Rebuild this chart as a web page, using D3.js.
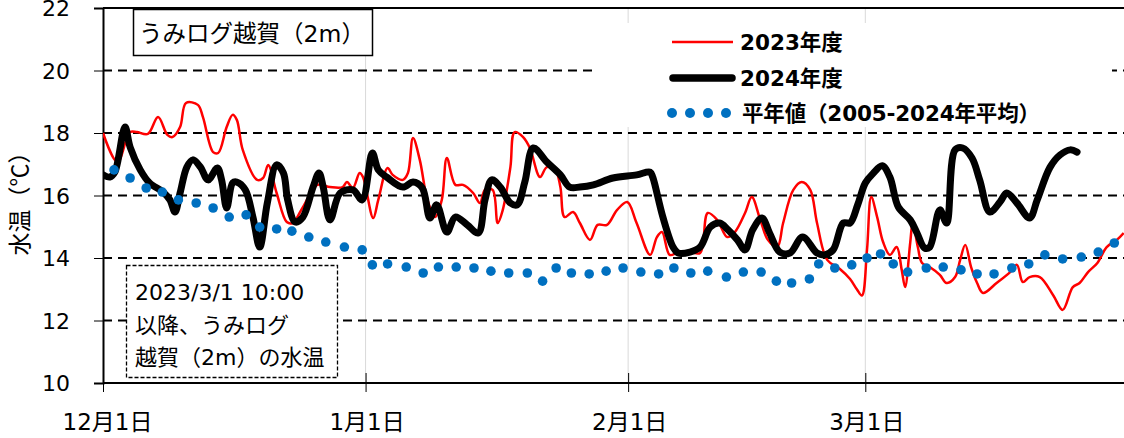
<!DOCTYPE html>
<html>
<head>
<meta charset="utf-8">
<script src="https://cdn.jsdelivr.net/npm/d3@7"></script>
<style>
  body { margin: 0; background: #fff; }
  svg { display: block; }
  text { font-family: "DejaVu Sans", "Noto Sans CJK JP", sans-serif; }
  .cjk { font-family: "Noto Sans CJK JP", sans-serif; }
</style>
</head>
<body>
<div id="chart"></div>
<script>
/* globals d3 */

// x値は12月1日からの日数
let monthDays = [0, 31, 62, 90]
let monthLabels = ['12月1日', '1月1日', '2月1日', '3月1日']
let yTicks = [10, 12, 14, 16, 18, 20, 22]
let gridVals = [12, 14, 16, 18, 20]

let fy2023 = [
  [0, 18.0], [1.7, 17.07], [3.2, 18.03], [4.0, 18.03], [5.3, 17.97], [6.5, 18.51], [7.6, 17.94],
  [8.2, 17.87], [9.1, 18.19], [9.8, 18.96], [11.2, 18.9], [11.8, 18.51], [13.0, 17.39], [13.6, 17.36],
  [14.6, 18.19], [15.3, 18.58], [15.8, 18.42], [16.5, 17.46], [18.2, 16.5], [18.9, 16.56], [19.5, 16.98],
  [20.5, 16.08], [21.7, 15.15], [22.4, 15.12], [23.6, 15.63], [25.3, 16.34], [26.8, 16.27], [28.3, 16.27],
  [28.8, 16.43], [29.5, 16.24], [30.3, 16.72], [30.7, 16.59], [31.9, 15.28], [32.5, 15.86], [33.6, 16.88],
  [34.2, 16.66], [35.4, 16.5], [36.0, 16.72], [36.6, 17.84], [37.4, 17.14], [38.3, 15.86], [39.2, 15.31],
  [40.0, 15.86], [40.6, 17.2], [41.6, 16.34], [42.5, 16.34], [43.7, 16.08], [44.5, 15.76], [45.1, 16.18],
  [46.0, 16.18], [46.6, 15.12], [47.2, 15.54], [48.1, 16.91], [48.6, 18.03], [49.6, 17.87], [50.4, 17.52],
  [51.6, 16.59], [52.4, 16.91], [53.4, 16.82], [54.0, 16.27], [54.5, 15.31], [55.5, 15.47], [56.3, 15.12],
  [57.5, 14.58], [58.4, 15.06], [59.5, 15.06], [60.7, 15.54], [61.9, 15.79], [63.0, 15.12], [64.6, 14.1],
  [65.4, 14.67], [66.0, 14.83], [66.9, 14.1], [67.8, 14.16], [69.3, 14.19], [70.5, 14.16], [71.4, 15.44],
  [72.5, 15.22], [73.7, 14.67], [74.6, 14.83], [75.8, 15.44], [76.6, 15.95], [77.6, 15.22], [78.5, 14.58],
  [79.6, 14.35], [80.3, 15.12], [81.5, 16.18], [82.5, 16.43], [83.5, 16.18], [84.3, 15.12], [85.5, 13.94],
  [87.0, 13.65], [88.2, 13.33], [89.0, 13.0], [89.6, 12.8], [90.2, 14.26], [90.7, 15.95], [91.4, 15.31],
  [92.1, 14.51], [92.9, 14.1], [93.7, 14.35], [94.3, 13.62], [94.7, 13.07], [95.3, 14.48], [95.6, 15.12],
  [96.2, 14.35], [96.7, 13.84], [97.6, 13.71], [98.8, 13.46], [99.6, 13.2], [100.6, 13.39], [101.2, 13.94],
  [101.8, 14.42], [102.5, 13.7], [103.2, 13.2], [103.9, 12.88], [105.5, 13.2], [107.1, 13.55], [107.9, 13.78],
  [108.6, 13.23], [109.4, 13.39], [110.6, 13.39], [112.2, 12.8], [113.3, 12.34], [114.5, 13.07], [115.3, 13.2],
  [116.3, 13.55], [117.4, 13.84], [118.5, 14.35], [119.7, 14.58], [120.5, 14.8]
]

let fy2024 = [
  [0, 16.66], [0.8, 16.59], [1.4, 16.75], [2.6, 18.19], [3.2, 17.55], [4.4, 16.82], [5.5, 16.4],
  [7.1, 16.11], [7.9, 15.86], [8.5, 15.47], [9.1, 16.08], [9.9, 16.91], [10.6, 17.14], [11.5, 16.91],
  [12.4, 16.5], [13.5, 16.88], [14.0, 16.5], [14.6, 15.6], [15.3, 16.4], [15.8, 16.43], [16.8, 16.18],
  [17.7, 15.31], [18.5, 14.35], [19.4, 15.76], [20.5, 16.98], [21.3, 16.72], [21.8, 15.86], [22.7, 15.15],
  [23.6, 15.31], [24.8, 16.27], [25.5, 16.72], [26.0, 16.27], [26.8, 15.22], [28.0, 16.08], [29.5, 16.18],
  [30.6, 15.86], [31.8, 17.36], [32.5, 16.82], [33.5, 16.59], [35.4, 16.27], [36.6, 16.43], [37.7, 16.24],
  [38.6, 15.28], [39.4, 15.7], [40.6, 14.83], [41.6, 15.31], [43.0, 15.06], [44.3, 14.8], [45.1, 15.86],
  [45.9, 16.5], [46.9, 16.27], [48.1, 15.76], [48.9, 15.7], [49.8, 16.43], [50.8, 17.52], [52.4, 17.07],
  [54.0, 16.66], [55.1, 16.27], [56.3, 16.27], [57.9, 16.34], [60.2, 16.56], [63.0, 16.66], [64.6, 16.75],
  [64.9, 16.59], [66.1, 15.31], [67.3, 14.35], [67.9, 14.16], [69.3, 14.19], [70.5, 14.35], [71.7, 14.99],
  [72.8, 15.12], [73.8, 14.9], [74.9, 14.58], [75.8, 14.26], [76.7, 14.9], [77.8, 15.28], [78.7, 14.8],
  [79.9, 14.19], [81.1, 14.16], [82.6, 14.67], [84.3, 14.16], [85.2, 14.1], [86.2, 14.26], [87.4, 15.12],
  [88.2, 15.12], [89.1, 15.7], [90.0, 16.4], [90.9, 16.7], [92.0, 16.95], [92.9, 16.59], [93.9, 15.63],
  [95.3, 15.22], [96.1, 14.8], [97.0, 14.32], [97.6, 14.35], [98.8, 15.54], [99.6, 15.12], [100.6, 17.46],
  [101.5, 17.52], [102.6, 17.2], [103.5, 16.5], [104.7, 15.47], [105.9, 15.79], [106.7, 16.08], [107.9, 15.76],
  [109.4, 15.28], [110.3, 15.86], [111.8, 16.9], [113.0, 17.3], [114.2, 17.46], [115.0, 17.39]
]

let normal = [
  [1.3, 16.82], [3.2, 16.56], [5.1, 16.24], [7.0, 16.11], [8.9, 15.86], [11.0, 15.76], [13.0, 15.6],
  [14.9, 15.31], [16.9, 15.38], [18.5, 14.99], [20.5, 14.93], [22.3, 14.86], [24.3, 14.67], [26.3, 14.51],
  [28.5, 14.35], [30.6, 14.26], [31.8, 13.78], [33.6, 13.81], [35.8, 13.71], [37.8, 13.52], [39.6, 13.71],
  [41.7, 13.71], [43.8, 13.68], [45.8, 13.58], [47.9, 13.52], [50.1, 13.52], [51.9, 13.26], [53.5, 13.68],
  [55.3, 13.52], [57.4, 13.49], [59.4, 13.58], [61.4, 13.68], [63.5, 13.55], [65.6, 13.49], [67.4, 13.68],
  [69.4, 13.52], [71.4, 13.58], [73.6, 13.39], [75.6, 13.55], [77.7, 13.55], [79.5, 13.26], [81.3, 13.2],
  [83.4, 13.33], [84.5, 13.81], [86.4, 13.68], [88.4, 13.78], [90.2, 14.0], [91.8, 14.13], [93.3, 13.81],
  [95.0, 13.55], [97.2, 13.68], [99.2, 13.71], [101.3, 13.62], [103.2, 13.49], [105.2, 13.49], [107.3, 13.68],
  [109.3, 13.81], [111.2, 14.1], [113.3, 13.97], [115.5, 14.03], [117.5, 14.19], [119.4, 14.48]
]

let W = 1124
let H = 438
let mLeft = 103
let mTop = 8
let mBottom = 383

let x = d3.scaleLinear().domain([0, 121]).range([mLeft, mLeft + 121 * 8.47])
let y = d3.scaleLinear().domain([10, 22]).range([mBottom, mTop])

function main () {
  let svg = d3.select('#chart').append('svg').attr('width', W).attr('height', H)

  svg.append('clipPath').attr('id', 'plot')
    .append('rect').attr('x', mLeft).attr('y', mTop).attr('width', W - mLeft).attr('height', mBottom - mTop)

  // 月の縦線
  svg.append('g').selectAll('line')
    .data(monthDays.slice(1))
    .enter().append('line')
      .attr('x1', (d) => x(d)).attr('x2', (d) => x(d))
      .attr('y1', mTop).attr('y2', mBottom)
      .attr('stroke', '#d9d9d9').attr('stroke-width', 1)

  // 破線グリッド
  svg.append('g').selectAll('line')
    .data(gridVals)
    .enter().append('line')
      .attr('x1', mLeft).attr('x2', W)
      .attr('y1', (d) => y(d)).attr('y2', (d) => y(d))
      .attr('stroke', '#000').attr('stroke-width', 2)
      .attr('stroke-dasharray', '9,6')

  // 凡例の白背景
  svg.append('rect').attr('x', 597).attr('y', 23).attr('width', 515).attr('height', 104).attr('fill', '#fff')

  // 軸
  let yAxis = d3.axisLeft(y).tickValues(yTicks).tickSize(9).tickFormat(d3.format('d'))
  let gy = svg.append('g').attr('transform', 'translate(' + mLeft + ',0)').call(yAxis)
  gy.select('.domain').attr('stroke-width', 2)
  gy.selectAll('.tick text').attr('x', -33).attr('dy', '0.36em')
    .style('font-size', '22px').style('font-family', '"DejaVu Sans", sans-serif').attr('fill', '#000')

  let xAxis = d3.axisBottom(x).tickValues(monthDays).tickSize(9).tickFormat((d, i) => monthLabels[i])
  let gx = svg.append('g').attr('transform', 'translate(0,' + mBottom + ')').call(xAxis)
  gx.select('.domain').attr('d', 'M' + mLeft + ',0H' + W).attr('stroke-width', 2)
  gx.selectAll('.tick line').attr('y1', -10)
  gx.selectAll('.tick text').attr('y', 47).attr('dy', null).attr('dx', (d) => d === 0 ? 4 : 1)
    .style('font-size', '23px').style('font-family', '"DejaVu Sans", "Noto Sans CJK JP", sans-serif')
    .attr('fill', '#000')

  svg.append('line').attr('x1', mLeft).attr('x2', W).attr('y1', mTop).attr('y2', mTop)
    .attr('stroke', '#000').attr('stroke-width', 2)

  // 系列
  let line = d3.line().x((d) => x(d[0])).y((d) => y(d[1])).curve(d3.curveCatmullRom.alpha(0.5))
  let plot = svg.append('g').attr('clip-path', 'url(#plot)')

  plot.append('path').datum(fy2023)
    .attr('d', line).attr('fill', 'none').attr('stroke', '#ff0000').attr('stroke-width', 2.5)

  plot.append('path').datum(fy2024)
    .attr('d', line).attr('fill', 'none').attr('stroke', '#000').attr('stroke-width', 7)
    .attr('stroke-linejoin', 'round').attr('stroke-linecap', 'round')

  plot.append('g').selectAll('circle')
    .data(normal)
    .enter().append('circle')
      .attr('cx', (d) => x(d[0])).attr('cy', (d) => y(d[1])).attr('r', 4.8)
      .attr('fill', '#0070c0')

  // タイトル
  svg.append('rect').attr('x', 133.5).attr('y', 9.5).attr('width', 239).attr('height', 46)
    .attr('fill', '#fff').attr('stroke', '#000').attr('stroke-width', 1.5)
  svg.append('text').attr('x', 252).attr('y', 42).attr('text-anchor', 'middle')
    .style('font-size', '23.5px').text('うみログ越賀（2m）')

  // 注記
  svg.append('rect').attr('x', 126.5).attr('y', 265.5).attr('width', 211).attr('height', 112)
    .attr('fill', '#fff').attr('stroke', '#000').attr('stroke-width', 1.3).attr('stroke-dasharray', '4,2')
  let notes = ['2023/3/1 10:00', '以降、うみログ', '越賀（2m）の水温']
  svg.append('g').selectAll('text')
    .data(notes)
    .enter().append('text')
      .attr('x', 135).attr('y', (d, i) => 300 + i * 32.5)
      .style('font-size', '22px').text((d) => d)

  // 縦軸タイトル
  svg.append('text').attr('class', 'cjk').attr('transform', 'translate(28,198) rotate(-90)')
    .attr('text-anchor', 'middle').style('font-size', '23px').text('水温（℃）')

  // 凡例
  let lg = svg.append('g').style('font-size', '21.5px').style('font-weight', 'bold')
  lg.append('line').attr('x1', 672).attr('x2', 733).attr('y1', 42).attr('y2', 42)
    .attr('stroke', '#ff0000').attr('stroke-width', 2.5)
  lg.append('text').attr('x', 740).attr('y', 50).text('2023年度')
  lg.append('line').attr('x1', 673).attr('x2', 732).attr('y1', 78).attr('y2', 78)
    .attr('stroke', '#000').attr('stroke-width', 7.5).attr('stroke-linecap', 'round')
  lg.append('text').attr('x', 740).attr('y', 86).text('2024年度')
  lg.selectAll('circle')
    .data([0, 1, 2, 3])
    .enter().append('circle')
      .attr('cx', (d) => 672 + d * 18).attr('cy', 113).attr('r', 5).attr('fill', '#0070c0')
  lg.append('text').attr('x', 742).attr('y', 121).attr('textLength', 298).text('平年値（2005-2024年平均）')
}

main()
</script>
</body>
</html>
